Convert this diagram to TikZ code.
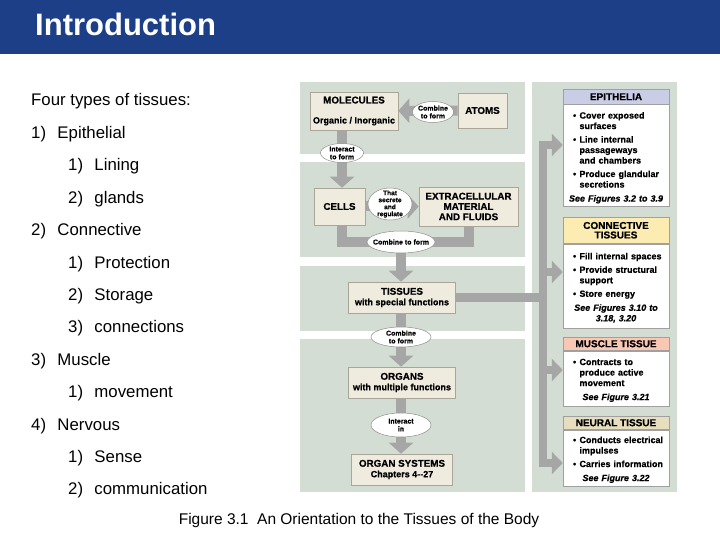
\documentclass[tikz,border=0pt]{standalone}
\usepackage{fontspec}
\setmainfont{Liberation Sans}
\newfontfamily\figsans{Liberation Sans}[BoldFeatures={FakeBold=0.7},BoldItalicFeatures={FakeBold=0.7}]
\usetikzlibrary{arrows.meta,shapes.geometric}
\definecolor{title-blue}{HTML}{1C3F87}
\definecolor{panel-sage}{HTML}{D3DDD3}
\definecolor{box-beige}{HTML}{EFEBDE}
\definecolor{box-edge}{HTML}{A9A698}
\definecolor{oval-edge}{HTML}{8F8F8F}
\definecolor{arrow-gray}{HTML}{A6A6A6}
\definecolor{card-edge}{HTML}{A0A0A0}
\definecolor{epi-blue}{HTML}{C9CEE6}
\definecolor{conn-yellow}{HTML}{FCECB2}
\definecolor{muscle-salmon}{HTML}{F8C8B4}
\definecolor{neural-tan}{HTML}{E6DEBE}
\pgfdeclarelayer{back}
\pgfdeclarelayer{mid}
\pgfsetlayers{back,mid,main}
\newcommand{\lnum}[1]{\makebox[26.3pt][l]{#1}}
\newcommand{\hd}{\fontsize{9.8}{10.5}\selectfont}
\newcommand{\bul}[1]{\par\noindent\hangindent=12pt\hangafter=1\makebox[12pt][l]{\hspace{5.5pt}\textbullet}#1\par\vspace{3pt}}
\newcommand{\seefig}[1]{\par\vspace{0.5pt}\noindent\makebox[\linewidth]{\itshape #1}\par}
\hbadness=10000

\begin{document}
\begin{tikzpicture}[x=1pt, y=-1pt,
      every node/.style={inner sep=0pt},
      listtext/.style={anchor=base west, font=\fontsize{16.8}{20}\selectfont},
      stepbox/.style={draw=box-edge, fill=box-beige, line width=0.6pt, align=center,
        font=\figsans\bfseries\fontsize{9}{10.5}\selectfont},
      verb/.style={ellipse, draw=oval-edge, fill=white, line width=0.5pt, inner sep=-1pt,
        align=center, font=\figsans\bfseries\fontsize{7}{7.8}\selectfont},
      flow/.style={draw=arrow-gray, line width=10pt, -{Triangle[width=24pt,length=11pt]}},
      flowline/.style={draw=arrow-gray, line width=10pt},
      bus/.style={draw=arrow-gray, line width=8.5pt},
      busarrow/.style={bus, -{Triangle[width=22pt,length=11pt]}},
      cardhead/.style={draw=card-edge, line width=0.5pt, anchor=north, minimum width=106pt,
        align=center, font=\figsans\bfseries\fontsize{10}{9.5}\selectfont},
      cardbody/.style={draw=card-edge, fill=white, line width=0.5pt, anchor=north,
        text width=97pt, inner xsep=4.5pt, font=\figsans\bfseries\fontsize{9}{10.5}\selectfont}]
    \useasboundingbox (0,0) rectangle (720,540);
    \fill[title-blue] (0,0) rectangle (720,54);
    \node[anchor=base west, text=white, font=\bfseries\fontsize{31}{31}\selectfont]
      (title) at (35,36) {Introduction};

    \node[listtext] (ltypes) at (31,106) {Four types of tissues:};
    \node[listtext] (lepith) at (31,138.4) {\lnum{1)}Epithelial};
    \node[listtext] (llining) at (68,170.8) {\lnum{1)}Lining};
    \node[listtext] (lglands) at (68,203.2) {\lnum{2)}glands};
    \node[listtext] (lconn) at (31,235.6) {\lnum{2)}Connective};
    \node[listtext] (lprot) at (68,268) {\lnum{1)}Protection};
    \node[listtext] (lstor) at (68,300.4) {\lnum{2)}Storage};
    \node[listtext] (lconx) at (68,332.8) {\lnum{3)}connections};
    \node[listtext] (lmusc) at (31,365.2) {\lnum{3)}Muscle};
    \node[listtext] (lmove) at (68,397.6) {\lnum{1)}movement};
    \node[listtext] (lnerv) at (31,430) {\lnum{4)}Nervous};
    \node[listtext] (lsense) at (68,462.4) {\lnum{1)}Sense};
    \node[listtext] (lcomm) at (68,494.8) {\lnum{2)}communication};

    \node[anchor=base, font=\fontsize{15.5}{16}\selectfont] (caption) at (359,524)
      {Figure 3.1\ \ An Orientation to the Tissues of the Body};

    % panels
    \begin{pgfonlayer}{back}
      \fill[panel-sage] (300,82) rectangle (525,154);
      \fill[panel-sage] (300,162) rectangle (525,257);
      \fill[panel-sage] (300,266) rectangle (525,331);
      \fill[panel-sage] (300,339) rectangle (525,492);
      \fill[panel-sage] (532,82) rectangle (677,492);
    \end{pgfonlayer}

    \node[stepbox, minimum width=88pt, minimum height=38pt] (mol) at (354,111)
      {{\hd MOLECULES}\\[9.5pt]Organic / Inorganic};
    \node[stepbox, minimum width=49pt, minimum height=35pt, font=\figsans\bfseries\hd] (ato) at (482.5,110.5) {ATOMS};
    \node[stepbox, minimum width=51pt, minimum height=37pt, font=\figsans\bfseries\hd] (cel) at (339.5,206.5) {CELLS};
    \node[stepbox, minimum width=99pt, minimum height=39pt, font=\figsans\bfseries\fontsize{9.8}{10.3}\selectfont]
      (ext) at (468.5,206.5) {EXTRACELLULAR\\MATERIAL\\AND FLUIDS};
    \node[stepbox, minimum width=107pt, minimum height=31pt] (tis) at (402,297.5)
      {{\hd TISSUES}\\with special functions};
    \node[stepbox, minimum width=107pt, minimum height=31pt] (org) at (402,382.5)
      {{\hd ORGANS}\\with multiple functions};
    \node[stepbox, minimum width=101pt, minimum height=31pt] (sys) at (402,469.5)
      {{\hd ORGAN SYSTEMS}\\Chapters 4--27};

    \node[verb, minimum width=41pt, minimum height=21pt] (comb1) at (433,112) {Combine\\to form};
    \node[verb, minimum width=43pt, minimum height=19pt] (inter1) at (342,153) {Interact\\to form};
    \node[verb, minimum width=44pt, minimum height=32pt, inner ysep=-3pt,
      font=\figsans\bfseries\fontsize{6.6}{7}\selectfont] (secr) at (390,204) {That\\secrete\\and\\regulate};
    \node[verb, minimum width=68pt, minimum height=22pt, inner xsep=-4.5pt] (comb2) at (401,242) {Combine to form};
    \node[verb, minimum width=60pt, minimum height=20pt] (comb3) at (401,337) {Combine\\to form};
    \node[verb, minimum width=60pt, minimum height=24pt] (interin) at (401,425) {Interact\\in};

    \node[cardhead, fill=epi-blue, minimum height=15pt] (epihd) at (616,89) {EPITHELIA};
    \node[cardbody, minimum height=102pt] (epi) at (epihd.south)
      {\bul{Cover exposed\newline surfaces}\bul{Line internal\newline passageways\newline and chambers}%
       \bul{Produce glandular\newline secretions}\seefig{See Figures 3.2 to 3.9}};
    \node[cardhead, fill=conn-yellow, minimum height=26pt] (conhd) at (616,217) {CONNECTIVE\\TISSUES};
    \node[cardbody, minimum height=84pt] (con) at (conhd.south)
      {\bul{Fill internal spaces}\bul{Provide structural\newline support}\bul{Store energy}%
       \seefig{See Figures 3.10 to}\noindent\makebox[\linewidth]{\itshape 3.18, 3.20}\par};
    \node[cardhead, fill=muscle-salmon, minimum height=13pt] (mushd) at (616,337) {MUSCLE TISSUE};
    \node[cardbody, minimum height=55pt] (mus) at (mushd.south)
      {\bul{Contracts to\newline produce active\newline movement}\seefig{See Figure 3.21}};
    \node[cardhead, fill=neural-tan, minimum height=13pt] (neuhd) at (616,416) {NEURAL TISSUE};
    \node[cardbody, minimum height=56pt] (neu) at (neuhd.south)
      {\bul{Conducts electrical\newline impulses}\bul{Carries information}\seefig{See Figure 3.22}};

    \coordinate (bustop) at (543,145);
    \coordinate (busc) at (543,272);
    \coordinate (busm) at (543,370);
    \coordinate (busbot) at (543,463);

    \begin{pgfonlayer}{mid}
      \draw[flow] (ato) -- (mol);
      \draw[flow] (inter1 |- mol.south) -- (inter1 |- cel.north);
      \draw[flow] (cel) -- (ext);
      \draw[flowline] (inter1 |- cel.south) |- (comb2.center) -| (ext.south);
      \draw[flow] (comb2.center) -- (comb2 |- tis.north);
      \draw[flow] (comb3 |- tis.south) -- (comb3 |- org.north);
      \draw[flow] (interin |- org.south) -- (interin |- sys.north);
      \draw[bus] (tis.east) -- (tis.east -| bustop);
      \draw[bus, {Triangle[width=22pt,length=11pt]}-{Triangle[width=22pt,length=11pt]}]
        (epi.west |- bustop) -- (bustop) -- (busbot) -- (neu.west |- busbot);
      \draw[busarrow] (busc) -- (con.west |- busc);
      \draw[busarrow] (busm) -- (mus.west |- busm);
    \end{pgfonlayer}
  \end{tikzpicture}
\end{document}
